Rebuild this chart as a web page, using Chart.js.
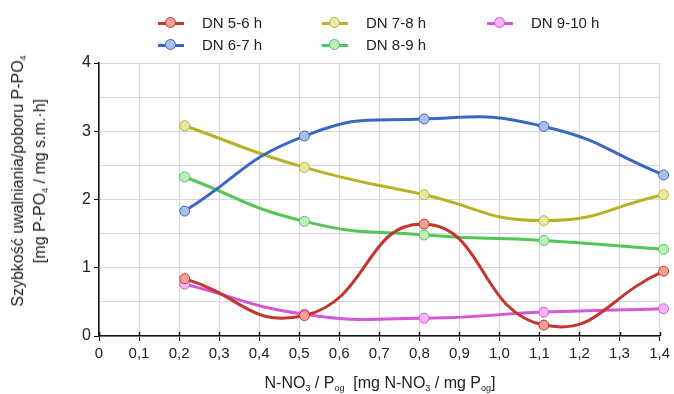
<!DOCTYPE html>
<html>
<head>
<meta charset="utf-8">
<script src="https://cdn.jsdelivr.net/npm/chart.js@4/dist/chart.umd.min.js"></script>
<style>
  body { margin: 0; background: #fff; font-family: "Liberation Sans", Arial, sans-serif; }
  #wrap { position: relative; width: 674px; height: 394px; }
  #legend { position: absolute; left: 0; top: 0; width: 674px; height: 60px; }
  .item { position: absolute; font-size: 15px; color: #222; line-height: 18px; }
  .mark { position: absolute; width: 26px; height: 3px; top: 8px; left: -44px; }
  .mark i { position: absolute; left: 7px; top: -5px; width: 11px; height: 11px; border-radius: 50%; box-sizing: border-box; border: 1px solid; }
  .ytitle { position: absolute; left: 29px; top: 181px; transform: translate(-50%, -50%) rotate(-90deg); white-space: nowrap; font-size: 16px; color: #222; text-align: center; line-height: 22px; }
  .xtitle { position: absolute; left: 380px; top: 374px; transform: translateX(-50%); white-space: nowrap; font-size: 16px; color: #222; }
  sub { font-size: 9px; vertical-align: -3px; line-height: 0; }
</style>
</head>
<body>
<div id="wrap">
  <canvas id="chart" width="674" height="394"></canvas>
  <div id="legend"></div>
  <div class="ytitle">Szybkość uwalniania/poboru P-PO<sub>4</sub><br>[mg P-PO<sub>4</sub> / mg s.m.·h]</div>
  <div class="xtitle">N-NO<sub>3</sub> / P<sub>og</sub> &nbsp;[mg N-NO<sub>3</sub> / mg P<sub>og</sub>]</div>
</div>
<script>
// dane
const xVals = [0.214, 0.513, 0.812, 1.111, 1.41];
const dn56 = [0.84, 0.30, 1.64, 0.16, 0.95];
const dn67 = [1.83, 2.93, 3.18, 3.07, 2.36];
const dn78 = [3.08, 2.47, 2.07, 1.69, 2.07];
const dn89 = [2.33, 1.68, 1.48, 1.40, 1.27];
const dn910 = [0.76, 0.32, 0.26, 0.35, 0.40];
const names = ['DN 5-6 h', 'DN 6-7 h', 'DN 7-8 h', 'DN 8-9 h', 'DN 9-10 h'];

const series = [dn56, dn67, dn78, dn89, dn910];
const lineCol = ['#c3352f', '#3a68c0', '#b9b228', '#52c656', '#d656d8'];
const fillCol = ['#f2a09a', '#a9c0ea', '#ebe8a6', '#bdeebe', '#f3b5f3'];
// legend positions (column layout like the original)
const legPos = [[202, 14], [202, 36], [366, 14], [366, 36], [531, 14]];

const datasets = series.map(function(s, i) {
    return {
        label: names[i],
        data: s.map(function(v, j) { return { x: xVals[j], y: v }; }),
        borderColor: lineCol[i],
        backgroundColor: fillCol[i],
        pointBackgroundColor: fillCol[i],
        pointBorderColor: lineCol[i],
        pointBorderWidth: 1,
        pointRadius: 5,
        borderWidth: 3,
        tension: 0.5,
        clip: false
    };
});

// html legend
const leg = document.getElementById('legend');
names.forEach(function(n, i) {
    const d = document.createElement('div');
    d.className = 'item';
    d.style.left = legPos[i][0] + 'px';
    d.style.top = legPos[i][1] + 'px';
    d.innerHTML = '<span class="mark" style="background:' + lineCol[i] + '"><i style="background:' + fillCol[i] + ';border-color:' + lineCol[i] + '"></i></span>' + n;
    leg.appendChild(d);
});

const crossTicks = {
    id: 'crossTicks',
    afterDraw: function(chart) {
        const ctx = chart.ctx, xs = chart.scales.x, b = chart.chartArea.bottom;
        ctx.save();
        ctx.strokeStyle = '#111';
        ctx.lineWidth = 1.5;
        xs.ticks.forEach(function(t) {
            const px = Math.round(xs.getPixelForValue(t.value)) + 0.5;
            ctx.beginPath();
            ctx.moveTo(px, b - 4);
            ctx.lineTo(px, b);
            ctx.stroke();
        });
        ctx.restore();
    }
};

new Chart(document.getElementById('chart'), {
    type: 'line',
    data: { datasets: datasets },
    options: {
        responsive: false,
        animation: false,
        layout: { padding: { top: 63, right: 14, bottom: 0, left: 0 } },
        plugins: { legend: { display: false }, tooltip: { enabled: false } },
        scales: {
            x: {
                type: 'linear',
                min: 0, max: 1.4,
                afterFit: function(s) { s.height = 58; },
                border: { color: '#111', width: 1.5 },
                grid: { color: '#d6d6d6', tickColor: '#111', tickLength: 5, lineWidth: 1 },
                ticks: {
                    stepSize: 0.1, color: '#222', padding: 4,
                    font: { size: 15, family: '"Liberation Sans", Arial' },
                    callback: function(v) { return v === 0 ? '0' : v.toFixed(1).replace('.', ','); }
                }
            },
            y: {
                min: 0, max: 4,
                afterFit: function(s) { s.width = 99; },
                border: { color: '#111', width: 1.5 },
                grid: {
                    color: '#d6d6d6', lineWidth: 1, tickLength: 5,
                    tickColor: function(c) { return (c.tick && c.tick.value % 1 === 0) ? '#111' : 'rgba(0,0,0,0)'; }
                },
                ticks: {
                    stepSize: 0.5, color: '#222', padding: 3,
                    font: { size: 16, family: '"Liberation Sans", Arial' },
                    callback: function(v) { return v % 1 === 0 ? String(v) : ''; }
                }
            }
        }
    },
    plugins: [crossTicks]
});
</script>
</body>
</html>
